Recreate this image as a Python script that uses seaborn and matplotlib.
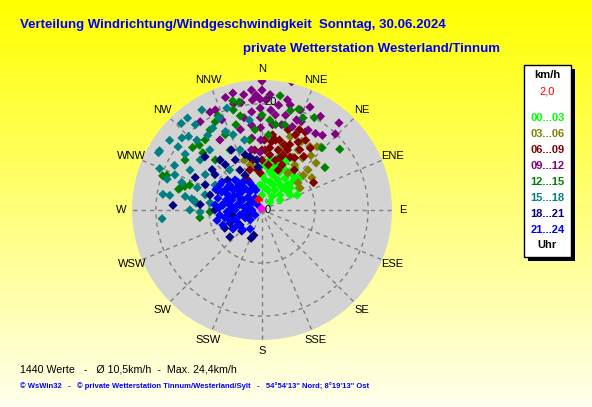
import numpy as np
import pandas as pd
import matplotlib
matplotlib.use("Agg")
import matplotlib.pyplot as plt
import seaborn as sns
from matplotlib.patches import Rectangle

# ---------------- data (direction in degrees, speed in km/h) ----------------
dir_00_03 = [4, 9, 17, 27, 38, 50, 59, 62, 61, 45, 0, 355, 0, 12, 16, 25, 36, 36, 28, 16,
             17, 33, 44, 47, 55, 50, 36, 6, 25, 46, 45, 17, 67, 24, 8,
             24, 36, 52, 30, 18, 42, 8, 19]
spd_00_03 = [8.5, 9.6, 10.3, 10.5, 10.1, 9.4, 8.0, 6.0, 3.9, 2.1, 2.8, 4.7, 6.6, 7.3, 8.8, 8.8, 8.9, 7.4, 6.4, 5.5,
             3.9, 4.5, 5.7, 7.7, 6.0, 4.4, 3.2, 5.7, 7.9, 8.7, 6.7, 6.9, 7.2, 9.7, 8.0,
             5.2, 5.8, 6.7, 8.7, 7.9, 8.8, 4.2, 9.4]

dir_03_06 = [41, 43, 42, 49, 50, 53, 36, 30, 35, 21, 30, 37, 38, 18, 345, 341, 351, 49, 57, 31, 17, 60]
spd_03_06 = [15.8, 16.2, 13.8, 13.5, 10.2, 8.5, 10.5, 11.5, 8.5, 14.8, 14.9, 15.0, 12.4, 12.9, 8.8, 10.0, 8.0,
             11.5, 11.2, 13.2, 11.8, 8.3]

dir_06_09 = [8, 14, 25, 38, 62, 350, 357, 28, 38, 18, 32, 8, 28, 3, 8, 15, 19, 0, 8, 15, 21, 23,
             354, 353, 2, 32, 24, 343, 24, 22, 29, 335, 39,
             7, 19, 23, 0, 11, 32]
spd_06_09 = [14.3, 13.6, 16.7, 14.8, 11.0, 9.6, 7.0, 11.3, 12.8, 15.9, 11.6, 13.0, 14.5, 11.3, 10.5, 11.7, 13.0,
             9.4, 8.6, 9.7, 11.1, 13.4, 7.6, 11.4, 13.2, 15.5, 9.3, 7.9, 15.5, 8.1, 16.8, 6.2, 9.7,
             11.8, 10.4, 12.3, 11.3, 13.4, 13.4]

dir_09_12 = [355, 355, 354, 353, 352, 350, 0, 359, 359, 359, 359, 359, 358, 4, 5, 7, 9, 14, 13, 13, 13,
             21, 24, 20, 25, 32, 44, 39, 35, 30, 41.5, 346, 345, 335, 336, 325, 329, 349, 349, 345,
             0, 357, 2, 8, 351, 15, 21, 342, 332]
spd_09_12 = [22.7, 20.8, 18.6, 16.1, 13.7, 11.5, 24.3, 20.9, 19.2, 17.4, 15.5, 13.2, 10.9, 21.8, 18.9, 16.2,
             20.0, 18.4, 21.3, 16.5, 24.8, 18.2, 18.2, 16.7, 21.4, 20.8, 19.9, 18.1, 17.6, 17.4, 21.9, 22.7,
             20.7, 20.8, 18.6, 20.3, 15.4, 20.6, 17.7, 15.7,
             22.6, 21.7, 20.8, 18.1, 22.0, 20.5, 20.2, 22.3, 20.9]

dir_12_15 = [345, 344, 347, 335, 332, 343, 314, 316, 312, 289, 285, 263, 268, 290, 284, 287, 289, 278,
             29.5, 52, 44, 56, 16, 20, 24, 9, 0, 9, 348, 5, 355, 334, 327, 332, 317, 303, 350, 5, 15, 321]
spd_12_15 = [21.3, 19.6, 18.2, 19.6, 18.8, 16.8, 15.5, 17.0, 17.6, 19.8, 16.0, 11.8, 9.8, 19.1, 16.2, 15.2,
             14.4, 12.9, 20.0, 18.6, 16.3, 14.3, 19.5, 20.2, 19.0, 16.3, 17.9, 21.8, 20.8, 14.2, 15.2, 15.8,
             18.0, 12.8, 12.9, 17.3, 13.4, 17.0, 16.6, 17.0]

dir_15_18 = [292, 265, 317, 321, 329, 288, 280, 279, 276, 268, 278, 289, 289, 300, 299, 307, 312, 315,
             317, 324, 329, 341, 335, 339, 297, 299, 302, 298, 320, 321, 340, 346, 279, 292, 309, 319,
             322, 335, 279, 306, 307, 352, 270, 285]
spd_15_18 = [20.8, 18.9, 22.3, 22.3, 22.0, 18.8, 14.7, 13.4, 12.5, 11.7, 9.9, 12.9, 16.0, 22.3, 22.3, 19.8,
             20.3, 19.6, 18.0, 17.4, 18.0, 20.3, 16.3, 15.2, 18.5, 15.5, 12.6, 10.0, 12.3, 9.7, 12.1, 13.6,
             17.6, 17.7, 15.0, 15.0, 20.4, 19.1, 18.9, 17.9, 21.8, 17.1, 13.6, 11.1]

dir_18_21 = [273, 313, 230, 237, 198, 201, 248, 320, 309, 347, 354, 224, 294, 286, 307, 321, 332, 331,
             311, 294, 277, 270, 334, 275, 296, 333, 343, 355, 312, 294, 261, 247, 236, 244]
spd_18_21 = [16.8, 14.7, 7.9, 6.5, 5.0, 5.7, 6.5, 12.3, 12.1, 10.3, 9.5, 5.5, 11.7, 10.2, 11.1, 11.0, 10.7,
             8.6, 8.6, 9.1, 7.6, 8.9, 7.3, 11.7, 14.0, 12.7, 10.9, 8.1, 5.6, 7.0, 5.7, 2.5, 5.0, 7.8]

dir_21_24 = [301, 298, 308, 318, 319, 322, 326, 330, 321, 285, 277, 263, 267, 288, 302, 298, 290, 270,
             270, 257, 245, 230, 234, 253, 281, 294, 312, 313, 312, 305, 319, 336, 343, 257, 249, 237,
             224, 212, 260, 277, 294, 276, 283, 263, 279, 249,
             305, 304, 310, 326, 339, 286, 297, 295, 310, 273, 274, 261, 258, 238, 294]
spd_21_24 = [9.2, 7.9, 7.7, 7.6, 6.3, 5.2, 4.1, 2.6, 1.2, 8.6, 7.4, 8.0, 6.6, 6.0, 5.3, 4.1, 2.8, 1.9,
             5.1, 4.3, 3.5, 2.9, 1.6, 6.3, 4.8, 7.0, 5.1, 3.6, 2.3, 6.6, 7.0, 5.6, 3.9, 8.7, 7.9, 6.5,
             5.2, 4.2, 6.7, 3.2, 8.3, 8.9, 4.3, 3.0, 6.1, 5.3,
             9.2, 7.7, 6.4, 6.4, 4.7, 7.0, 5.9, 4.4, 2.9, 8.1, 5.7, 3.6, 7.1, 5.3, 9.5]

current_dir = [340]
current_spd = [2.2]
mean_dir = [330]
mean_spd = [0.4]

group_labels = ["00...03", "03...06", "06...09", "09...12", "12...15", "15...18", "18...21", "21...24"]
group_colors = ["#00FF00", "#808000", "#800000", "#800080", "#008000", "#008080", "#000080", "#0000FF"]
compass_labels = ["N", "NNE", "NE", "ENE", "E", "ESE", "SE", "SSE",
                  "S", "SSW", "SW", "WSW", "W", "WNW", "NW", "NNW"]

title_1 = "Verteilung Windrichtung/Windgeschwindigkeit  Sonntag, 30.06.2024"
title_2 = "private Wetterstation Westerland/Tinnum"
stats_text = "1440 Werte   -   \u00d8 10,5km/h  -  Max. 24,4km/h"
footer_text = ("\u00a9 WsWin32   -   \u00a9 private Wetterstation Tinnum/Westerland/Sylt   -   "
               "54\u00b054'13\" Nord; 8\u00b019'13\" Ost")

# ---------------- build table ----------------
dirs = [dir_00_03, dir_03_06, dir_06_09, dir_09_12, dir_12_15, dir_15_18, dir_18_21, dir_21_24]
spds = [spd_00_03, spd_03_06, spd_06_09, spd_09_12, spd_12_15, spd_15_18, spd_18_21, spd_21_24]
rows = []
for lab, d, s in zip(group_labels, dirs, spds):
    for dd, ss in zip(d, s):
        rows.append({"theta": np.deg2rad(dd), "speed": ss, "group": lab})
df = pd.DataFrame(rows)

# ---------------- figure ----------------
sns.set_theme(style="white")
plt.rcParams["font.family"] = ["Liberation Sans", "DejaVu Sans"]

W, H = 592, 407
fig = plt.figure(figsize=(W / 100, H / 100), dpi=100)

def fx(x):
    return x / W

def fy(y):
    return 1 - y / H

# background gradient
bg = fig.add_axes([0, 0, 1, 1], zorder=-10)
t = np.linspace(0, 1, 256)[:, None]
img = np.zeros((256, 1, 3))
img[..., 0] = 1.0
img[..., 1] = 1.0
img[..., 2] = 0.93 * t
bg.imshow(img, aspect="auto", extent=[0, 1, 0, 1])
bg.set_axis_off()

# polar axes
CX, CY, R = 262, 210, 130
RMAX = 24.5
ax = fig.add_axes([fx(CX - R), fy(CY + R), 2 * R / W, 2 * R / H], projection="polar")
ax.set_theta_zero_location("N")
ax.set_theta_direction(-1)
ax.set_facecolor("#d3d3d3")
ax.set_ylim(0, RMAX)
ax.set_xticks(np.deg2rad(np.arange(0, 360, 22.5)))
ax.set_xticklabels([])
ax.set_yticks([10, 20])
ax.set_yticklabels([])
ax.grid(True, color="#7f7f7f", linestyle=(0, (3, 3)), linewidth=1.0)
ax.spines["polar"].set_visible(False)

palette = dict(zip(group_labels, group_colors))
sns.scatterplot(data=df, x="theta", y="speed", hue="group", palette=palette,
                hue_order=group_labels, marker="D", s=22, linewidth=0,
                legend=False, ax=ax, zorder=3)
ax.scatter(np.deg2rad(current_dir), current_spd, marker="D", s=22, color="#FF0000", linewidth=0, zorder=4)
ax.scatter(np.deg2rad(mean_dir), mean_spd, marker="D", s=22, color="#FF00FF", linewidth=0, zorder=4)
ax.set_xlabel("")
ax.set_ylabel("")

for i, lab in enumerate(compass_labels):
    ax.text(np.deg2rad(i * 22.5), RMAX * 1.085, lab, ha="center", va="center",
            fontsize=8, color="black", clip_on=False)

fig.text(fx(271), fy(102), "20", ha="center", va="center", fontsize=8, color="black")
fig.text(fx(268), fy(210), "0", ha="center", va="center", fontsize=8, color="black")

# titles
fig.text(fx(20), fy(25), title_1, ha="left", va="center", fontsize=9.5,
         fontweight="bold", color="#0000FF")
fig.text(fx(243), fy(49), title_2, ha="left", va="center", fontsize=9.5,
         fontweight="bold", color="#0000FF")

# legend box
bx0, by0, bx1, by1 = 524, 65, 571, 257
fig.patches.append(Rectangle((fx(bx0 + 4), fy(by1 + 4)), (bx1 - bx0) / W, (by1 - by0) / H,
                             transform=fig.transFigure, facecolor="black", edgecolor="none", zorder=5))
fig.patches.append(Rectangle((fx(bx0), fy(by1)), (bx1 - bx0) / W, (by1 - by0) / H,
                             transform=fig.transFigure, facecolor="white", edgecolor="black",
                             linewidth=1, zorder=6))
LX = (bx0 + bx1) / 2
fig.text(fx(LX), fy(75), "km/h", ha="center", va="center", fontsize=8, fontweight="bold",
         color="black", zorder=7)
fig.text(fx(LX), fy(92), "2,0", ha="center", va="center", fontsize=8, color="#FF0000", zorder=7)
for i, (lab, col) in enumerate(zip(group_labels, group_colors)):
    fig.text(fx(LX), fy(118 + 16 * i), lab, ha="center", va="center", fontsize=8,
             fontweight="bold", color=col, zorder=7)
fig.text(fx(LX), fy(245), "Uhr", ha="center", va="center", fontsize=8, fontweight="bold",
         color="black", zorder=7)

# bottom texts
fig.text(fx(20), fy(369), stats_text, ha="left", va="center", fontsize=7.7, color="black")
fig.text(fx(20), fy(386), footer_text, ha="left", va="center", fontsize=5.5,
         fontweight="bold", color="#0000FF")

fig.savefig("out.png", dpi=100)
